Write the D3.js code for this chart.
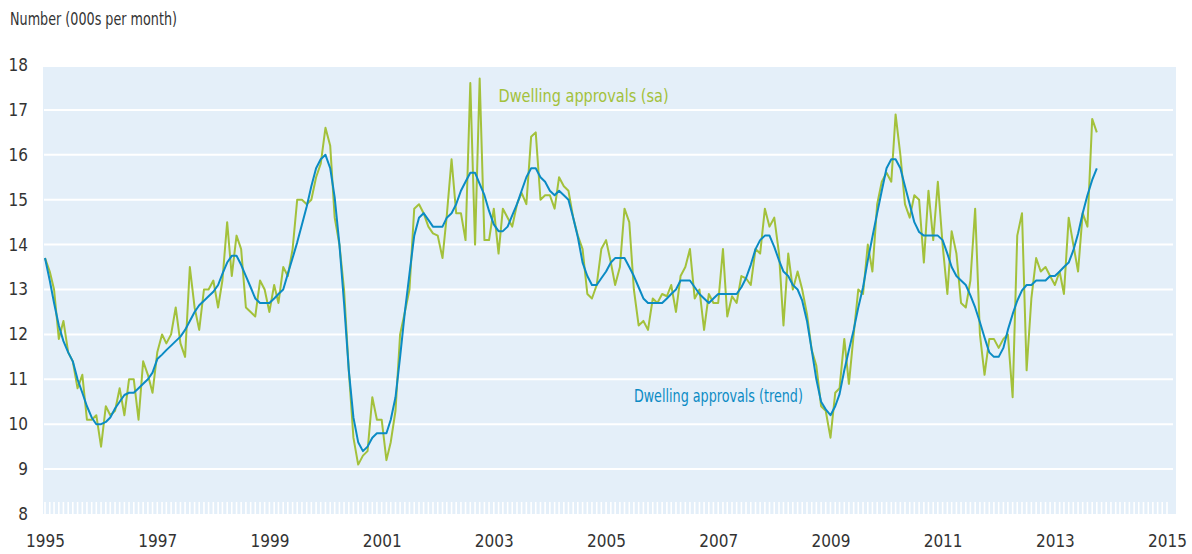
<!DOCTYPE html>
<html>
<head>
<meta charset="utf-8">
<title>Dwelling approvals</title>
<style>
  body { margin: 0; background: #ffffff; }
  svg text { font-family: "Liberation Sans Narrow", "Arial Narrow", "DejaVu Sans Condensed", sans-serif; fill: #333333; }
</style>
</head>
<body>
<svg id="viz" width="1192" height="554"></svg>
<script src="https://d3js.org/d3.v7.min.js"></script>
<script>
// monthly data, Jan 1995 onwards (000s per month)
var startYear = 1995;
var approvalsSa = [
  13.7, 13.4, 13.0, 11.9, 12.3, 11.6, 11.4, 10.8, 11.1, 10.1, 10.1, 10.2,
  9.5, 10.4, 10.2, 10.3, 10.8, 10.2, 11.0, 11.0, 10.1, 11.4, 11.1, 10.7,
  11.6, 12.0, 11.8, 12.0, 12.6, 11.8, 11.5, 13.5, 12.6, 12.1, 13.0, 13.0,
  13.2, 12.6, 13.2, 14.5, 13.3, 14.2, 13.9, 12.6, 12.5, 12.4, 13.2, 13.0,
  12.5, 13.1, 12.7, 13.5, 13.3, 13.9, 15.0, 15.0, 14.9, 15.0, 15.5, 15.8,
  16.6, 16.2, 14.6, 14.0, 13.0, 11.2, 9.7, 9.1, 9.3, 9.4, 10.6, 10.1,
  10.1, 9.2, 9.6, 10.3, 12.0, 12.5, 13.0, 14.8, 14.9, 14.7, 14.4, 14.25,
  14.2, 13.7, 14.65, 15.9, 14.7, 14.7, 14.1, 17.6, 14.0, 17.7, 14.1, 14.1,
  14.8, 13.8, 14.8, 14.6, 14.4, 14.9, 15.15, 14.9, 16.4, 16.5, 15.0, 15.1,
  15.1, 14.8, 15.5, 15.3, 15.2, 14.6, 14.2, 13.9, 12.9, 12.8, 13.1, 13.9,
  14.1, 13.6, 13.1, 13.5, 14.8, 14.5, 13.0, 12.2, 12.3, 12.1, 12.8, 12.7,
  12.9, 12.85, 13.1, 12.5, 13.3, 13.5, 13.9, 12.8, 13.0, 12.1, 12.9, 12.7,
  12.7, 13.9, 12.4, 12.85, 12.7, 13.3, 13.25, 13.1, 13.9, 13.8, 14.8, 14.4,
  14.6, 13.8, 12.2, 13.8, 13.0, 13.4, 13.0, 12.45, 11.65, 11.3, 10.4, 10.3,
  9.7, 10.7, 10.8, 11.9, 10.9, 12.0, 13.0, 12.9, 14.0, 13.4, 14.9, 15.4,
  15.6, 15.4, 16.9, 16.0, 14.9, 14.6, 15.1, 15.0, 13.6, 15.2, 14.1, 15.4,
  14.0, 12.9, 14.3, 13.8, 12.7, 12.6, 13.2, 14.8, 12.0, 11.1, 11.9, 11.9,
  11.7, 11.9, 12.0, 10.6, 14.2, 14.7, 11.2, 12.8, 13.7, 13.4, 13.5, 13.3,
  13.1, 13.4, 12.9, 14.6, 14.0, 13.4, 14.7, 14.4, 16.8, 16.5
];
var approvalsTrend = [
  13.7, 13.2, 12.7, 12.2, 11.85, 11.6, 11.4, 11.0, 10.7, 10.4, 10.15, 10.0,
  10.0, 10.05, 10.15, 10.35, 10.5, 10.65, 10.7, 10.7, 10.8, 10.9, 11.0, 11.15,
  11.45, 11.55, 11.65, 11.75, 11.85, 11.95, 12.1, 12.3, 12.5, 12.65, 12.75, 12.85,
  12.95, 13.1, 13.35, 13.6, 13.75, 13.75, 13.55, 13.3, 13.05, 12.8, 12.7, 12.7,
  12.7, 12.8, 12.9, 13.0, 13.35, 13.7, 14.05, 14.45, 14.85, 15.3, 15.7, 15.9,
  16.0, 15.7, 15.05, 14.0, 12.7, 11.2, 10.15, 9.6, 9.4, 9.5, 9.7, 9.8,
  9.8, 9.8, 10.1, 10.6, 11.5, 12.5, 13.35, 14.2, 14.6, 14.7, 14.55, 14.4,
  14.4, 14.4, 14.6, 14.7, 14.9, 15.2, 15.4, 15.6, 15.6, 15.35, 15.1, 14.75,
  14.45, 14.3, 14.3, 14.4, 14.65, 14.9, 15.2, 15.5, 15.7, 15.7, 15.5, 15.4,
  15.2, 15.1, 15.2, 15.1, 15.0, 14.6, 14.17, 13.6, 13.3, 13.1, 13.1, 13.25,
  13.4, 13.6, 13.7, 13.7, 13.7, 13.5, 13.3, 13.05, 12.8, 12.7, 12.7, 12.7,
  12.7, 12.8, 12.9, 13.0, 13.2, 13.2, 13.2, 13.05, 12.9, 12.8, 12.7, 12.8,
  12.9, 12.9, 12.9, 12.9, 12.9, 13.05, 13.25, 13.55, 13.9, 14.1, 14.2, 14.2,
  13.95, 13.65, 13.4, 13.3, 13.1, 13.0, 12.75, 12.3, 11.65, 11.0, 10.5, 10.33,
  10.2, 10.4, 10.67, 11.2, 11.65, 12.1, 12.6, 13.05, 13.65, 14.17, 14.7, 15.2,
  15.7, 15.9, 15.9, 15.7, 15.3, 14.9, 14.5, 14.28, 14.2, 14.2, 14.2, 14.2,
  14.1, 13.8, 13.5, 13.3, 13.2, 13.1, 12.87, 12.6, 12.27, 11.93, 11.6, 11.5,
  11.5, 11.7, 12.1, 12.45, 12.75, 12.98, 13.1, 13.1, 13.2, 13.2, 13.2, 13.3,
  13.3, 13.4, 13.5, 13.6, 13.87, 14.24, 14.7, 15.1, 15.44, 15.7
];
var yearTicks = [1995, 1997, 1999, 2001, 2003, 2005, 2007, 2009, 2011, 2013, 2015];
var valueTicks = [8, 9, 10, 11, 12, 13, 14, 15, 16, 17, 18];
var gridValues = [9, 10, 11, 12, 13, 14, 15, 16, 17];

var green = "#a3c13b";
var blue = "#0b8bc4";

var svg = d3.select("#viz");

// scales: time across, value up
var x = d3.scaleTime()
  .domain([new Date(1995, 0, 1), new Date(2015, 0, 1)])
  .range([45, 1167]);
var y = d3.scaleLinear()
  .domain([8, 18])
  .range([514, 65]);

// turn the arrays into {date, value}
var toPoints = function(arr) {
  return arr.map(function(v, i) {
    return { date: new Date(startYear, i, 1), value: v };
  });
};

// plot background
svg.append("rect")
  .attr("x", 43)
  .attr("y", 67)
  .attr("width", 1176 - 43)
  .attr("height", 514 - 67)
  .attr("fill", "#e4eff9");

// white gridlines
svg.selectAll(".grid")
  .data(gridValues)
  .enter().append("line")
  .attr("class", "grid")
  .attr("x1", 44)
  .attr("x2", 1173)
  .attr("y1", function(d) { return y(d); })
  .attr("y2", function(d) { return y(d); })
  .attr("stroke", "#ffffff")
  .attr("stroke-width", 2);

// little monthly ticks strip along the bottom
var months = d3.timeMonth.range(new Date(1995, 0, 1), new Date(2015, 1, 1));
svg.selectAll(".mtick")
  .data(months)
  .enter().append("line")
  .attr("class", "mtick")
  .attr("x1", function(d) { return x(d); })
  .attr("x2", function(d) { return x(d); })
  .attr("y1", 502)
  .attr("y2", 514)
  .attr("stroke", "#ffffff")
  .attr("stroke-width", 1.6);

// y axis labels
var yAxis = d3.axisLeft(y)
  .tickValues(valueTicks)
  .tickSize(0)
  .tickPadding(0);
var gy = svg.append("g")
  .attr("transform", "translate(28,0)")
  .call(yAxis);
gy.select(".domain").remove();
gy.selectAll("text")
  .attr("font-size", 17)
  .style("fill", "#333333");

// x axis labels
var xAxis = d3.axisBottom(x)
  .tickValues(yearTicks.map(function(yr) { return new Date(yr, 0, 1); }))
  .tickFormat(d3.timeFormat("%Y"))
  .tickSize(0)
  .tickPadding(0);
var gx = svg.append("g")
  .attr("transform", "translate(0,535)")
  .call(xAxis);
gx.select(".domain").remove();
gx.selectAll("text")
  .attr("font-size", 17)
  .style("fill", "#333333");

// the two series
var line = d3.line()
  .x(function(d) { return x(d.date); })
  .y(function(d) { return y(d.value); });

svg.append("path")
  .datum(toPoints(approvalsSa))
  .attr("d", line)
  .attr("fill", "none")
  .attr("stroke", green)
  .attr("stroke-width", 2)
  .attr("stroke-linejoin", "round");

svg.append("path")
  .datum(toPoints(approvalsTrend))
  .attr("d", line)
  .attr("fill", "none")
  .attr("stroke", blue)
  .attr("stroke-width", 2)
  .attr("stroke-linejoin", "round");

// series labels, squeezed to the narrow face of the original
svg.append("text")
  .attr("x", x(new Date(2003, 1, 1)))
  .attr("y", y(17.18))
  .attr("font-size", 17)
  .attr("textLength", 170)
  .attr("lengthAdjust", "spacingAndGlyphs")
  .style("fill", green)
  .text("Dwelling approvals (sa)");

svg.append("text")
  .attr("x", x(new Date(2005, 6, 1)))
  .attr("y", y(10.5))
  .attr("font-size", 17)
  .attr("textLength", 169)
  .attr("lengthAdjust", "spacingAndGlyphs")
  .style("fill", blue)
  .text("Dwelling approvals (trend)");

// units title
svg.append("text")
  .attr("x", 10)
  .attr("y", 25)
  .attr("font-size", 17)
  .attr("textLength", 167)
  .attr("lengthAdjust", "spacingAndGlyphs")
  .text("Number (000s per month)");
</script>
</body>
</html>
